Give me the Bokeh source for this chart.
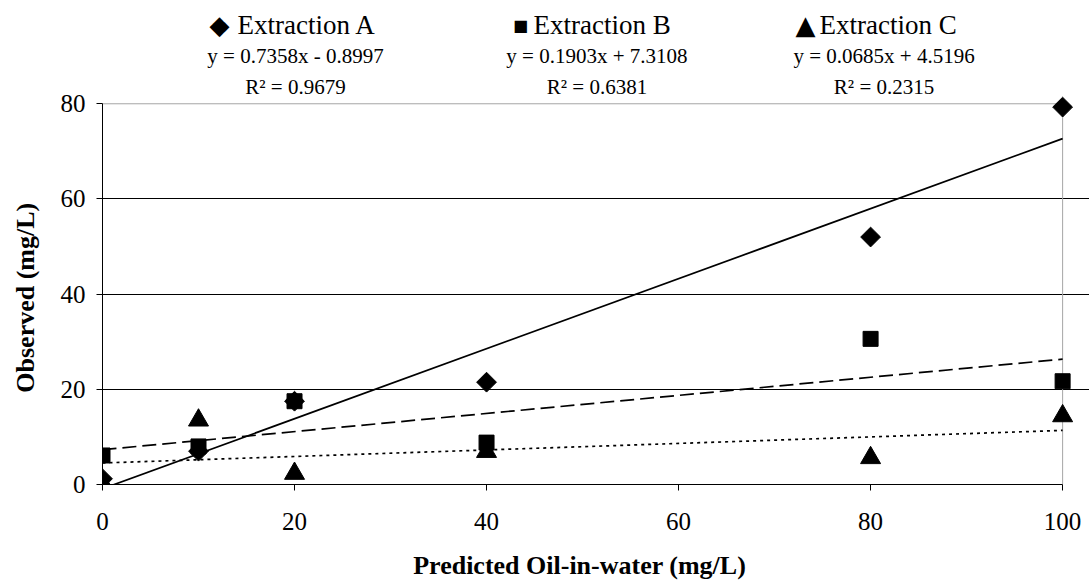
from bokeh.plotting import figure
from bokeh.models import FixedTicker, Range1d, ColumnDataSource
from bokeh.core.properties import value
from bokeh.embed import file_html
from bokeh.resources import INLINE

# ---- data ----
x_vals = [0, 10, 20, 40, 80, 100]
ext_a = [1.2, 7.0, 17.5, 21.5, 52.0, 79.3]
ext_b = [6.1, 8.0, 17.5, 8.8, 30.6, 21.7]
ext_c = [0.3, 13.5, 2.3, 6.9, 5.6, 14.4]
series_names = ["Extraction A", "Extraction B", "Extraction C"]
slopes = [0.7358, 0.1903, 0.0685]
intercepts = [-0.8997, 7.3108, 4.5196]
r_squared = [0.9679, 0.6381, 0.2315]
x_ticks = [0, 20, 40, 60, 80, 100]
y_ticks = [0, 20, 40, 60, 80]
x_title = "Predicted Oil-in-water (mg/L)"
y_title = "Observed (mg/L)"

FONT = "Liberation Serif"
X0, X1 = x_ticks[0], x_ticks[-1]
Y0, Y1 = y_ticks[0], y_ticks[-1]

# frame extends above/right of the axes so the legend texts and edge markers are not clipped
p = figure(width=1089, height=582, output_backend="svg", toolbar_location=None,
           x_range=Range1d(X0, 102.8), y_range=Range1d(Y0, 101.7),
           min_border_left=102, min_border_right=0, min_border_top=0, min_border_bottom=97,
           outline_line_color=None,
           background_fill_color="white", border_fill_color="white")

# axes
for ax in (p.xaxis[0], p.yaxis[0]):
    ax.major_label_text_font = FONT
    ax.major_label_text_font_size = "25px"
    ax.major_label_text_color = "black"
    ax.axis_line_color = "black"
    ax.axis_line_width = 1
    ax.major_tick_line_color = "black"
    ax.major_tick_out = 6
    ax.major_tick_in = 0
    ax.minor_tick_out = 0
    ax.minor_tick_in = 0
    ax.axis_label_text_font = FONT
    ax.axis_label_text_font_size = "26px"
    ax.axis_label_text_font_style = "bold"
    ax.axis_label_text_color = "black"

p.xaxis.ticker = FixedTicker(ticks=x_ticks)
p.yaxis.ticker = FixedTicker(ticks=y_ticks)
p.xaxis.bounds = (X0, X1)
p.yaxis.bounds = (Y0, Y1)
# trailing no-break spaces move the centred titles to the middle of the 0-100 / 0-80 axes
p.xaxis.axis_label = x_title + "\u00A0" * 5
p.yaxis.axis_label = y_title + "\u00A0" * 17
p.xaxis.major_label_standoff = 22
p.xaxis.axis_label_standoff = 18
p.yaxis.major_label_standoff = 11
p.yaxis.axis_label_standoff = 18

p.xgrid.visible = False
p.ygrid.ticker = FixedTicker(ticks=y_ticks[1:-1])
p.ygrid.grid_line_color = "black"
p.ygrid.grid_line_width = 1
p.ygrid.bounds = (X0, X1)

# plot-area border (top and right), light grey
p.line([X0, X1], [Y1, Y1], line_color="#a6a6a6", line_width=1)
p.line([X1, X1], [Y0, Y1], line_color="#a6a6a6", line_width=1)

# trendlines
dashes = ["solid", "14 6", "3 4"]
x_line = [X0, X1]
for m, b, d in zip(slopes, intercepts, dashes):
    p.line(x_line, [m * xv + b for xv in x_line],
           line_color="black", line_width=1.7, line_dash=d)

# markers
p.scatter(x_vals, ext_a, marker="square", angle=0.785398, size=14,
          fill_color="black", line_color="black")
p.scatter(x_vals, ext_b, marker="square", size=15,
          fill_color="black", line_color="black")
p.scatter(x_vals, ext_c, marker="triangle", size=20,
          fill_color="black", line_color="black")

# legend / equations above plot area (one text glyph, per-item size and alignment)
text_x = [14.06, 44.9, 74.69]
col_x = [20.1, 51.5, 81.4]
legend_y, eq_y, r2_y = 96.46, 89.96, 83.46
equations = []
r2_texts = []
for i in range(3):
    sign = "-" if intercepts[i] < 0 else "+"
    equations.append(f"y = {slopes[i]:.4f}x {sign} {abs(intercepts[i]):.4f}")
    r2_texts.append(f"R\u00B2 = {r_squared[i]:.4f}")

label_src = ColumnDataSource(dict(
    x=text_x + col_x + col_x,
    y=[legend_y] * 3 + [eq_y] * 3 + [r2_y] * 3,
    text=series_names + equations + r2_texts,
    size=["27px"] * 3 + ["21px"] * 6,
    align=["left"] * 3 + ["center"] * 6,
))
p.text(x="x", y="y", text="text", source=label_src, text_font=value(FONT),
       text_font_size="size", text_align="align", text_baseline="middle",
       text_color="black")

# legend symbols
symbols = ["\u25C6", "\u25A0", "\u25B2"]
symbol_sizes = ["26px", "16px", "26px"]
symbol_x = [12.19, 43.54, 73.23]
sym_src = ColumnDataSource(dict(x=symbol_x, y=[legend_y] * 3, text=symbols, size=symbol_sizes))
p.text(x="x", y="y", text="text", source=sym_src, text_font=value("DejaVu Sans"),
       text_font_size="size", text_align="center", text_baseline="middle",
       text_color="black")

open("out.html", "w").write(file_html(p, INLINE))
